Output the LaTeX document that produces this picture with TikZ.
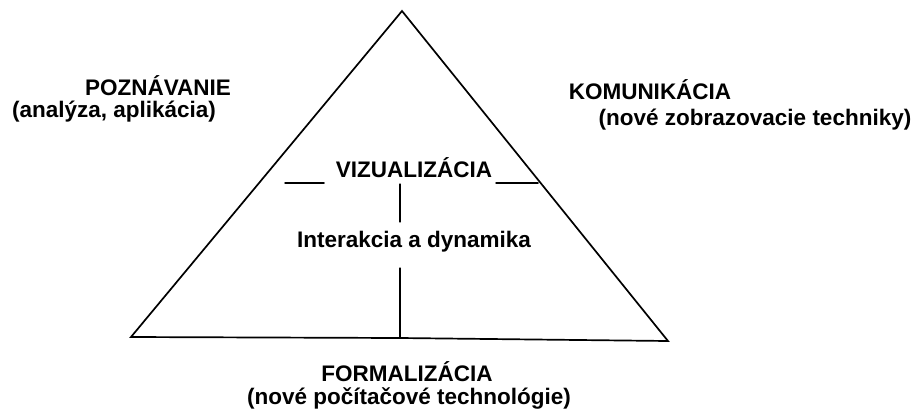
\documentclass[tikz,border=0pt]{standalone}
\usepackage{fontspec}
\setmainfont{Liberation Sans}
\begin{document}
\begin{tikzpicture}[x=1pt,y=-1pt,
  lbl/.style={inner sep=0pt,anchor=base,font=\fontsize{22.5}{24}\selectfont\bfseries},
  edge/.style={line width=1.7pt,line cap=round,line join=miter}]
\useasboundingbox[fill=white] (0,0) rectangle (915,410);
% triangle corners
\coordinate (apex) at (402,11);
\coordinate (bl) at (131,337);
\coordinate (br) at (668,341);
\coordinate (bm) at (400,338);
\draw[edge] (bl) -- (apex) -- (br) -- (bm) -- cycle;
% labels (positions are baselines)
\node[lbl] (poz) at (158,95) {POZNÁVANIE};
\node[lbl] (pozs) at (114,117) {(analýza, aplikácia)};
\node[lbl] (kom) at (650,99) {KOMUNIKÁCIA};
\node[lbl] (koms) at (755,125) {(nové zobrazovacie techniky)};
\node[lbl] (viz) at (414,177) {VIZUALIZÁCIA};
\node[lbl] (int) at (414,247) {Interakcia a dynamika};
\node[lbl] (form) at (407,381) {FORMALIZÁCIA};
\node[lbl] (forms) at (409,404) {(nové počítačové technológie)};
% underline strokes beside VIZUALIZÁCIA
\coordinate (ul1) at (285,183);
\coordinate (ul2) at (324,183);
\coordinate (ur1) at (496,183);
\coordinate (ur2) at (538,183);
\draw[edge,line width=1.5pt] (ul1) -- (ul2);
\draw[edge,line width=1.5pt] (ur1) -- (ur2);
% vertical axis
\coordinate (v1) at (400,184);
\coordinate (v2) at (400,222);
\coordinate (v3) at (400,268);
\draw[edge,line width=1.3pt] (v1) -- (v2);
\draw[edge,line width=1.3pt] (v3) -- (bm);
\end{tikzpicture}
\end{document}
